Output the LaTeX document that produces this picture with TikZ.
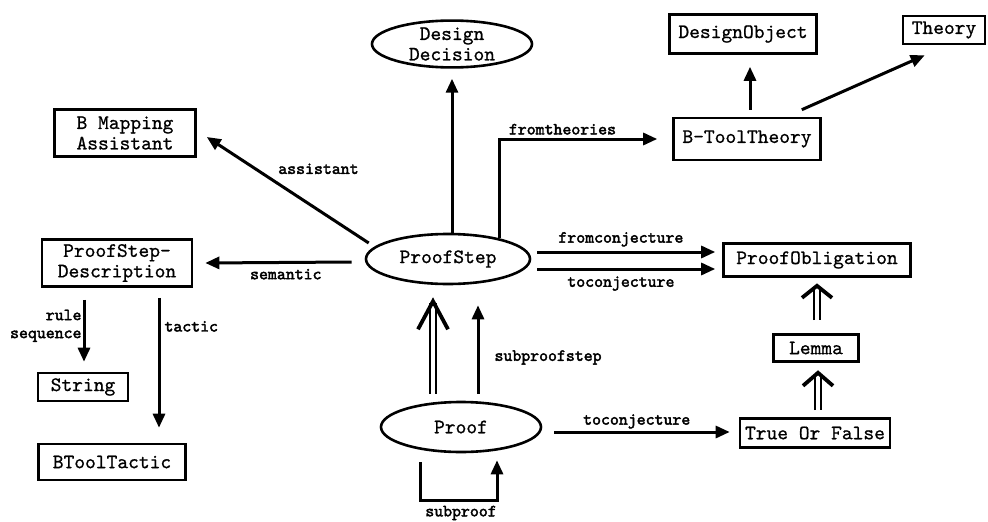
\documentclass[tikz,border=0pt]{standalone}
\usepackage{fontspec}
\newfontfamily\nodefont{lmmono10-regular.otf}[FakeBold=0.8]
\newfontfamily\lblfont{lmmono10-regular.otf}[FakeBold=2.4]
\usetikzlibrary{shapes.geometric,arrows.meta,calc}
\tikzset{
  box/.style={draw, line width=2.6pt, rectangle, inner sep=0pt,
    font=\nodefont\fontsize{20.5}{20.5}\selectfont, align=center},
  oval/.style={draw, line width=2.6pt, ellipse, inner sep=0pt,
    font=\nodefont\fontsize{20.5}{20.5}\selectfont, align=center},
  arr/.style={line width=3pt, -{Triangle[length=14pt,width=12pt]}},
  isaline/.style={double, line width=2pt, double distance=3.5pt},
  chevron/.style={line width=3.8pt, miter limit=8},
  lbl/.style={font=\lblfont\fontsize{17}{18}\selectfont, inner sep=2pt}
}
\begin{document}
\begin{tikzpicture}[x=1pt,y=-1pt]
\useasboundingbox (0,0) rectangle (988,522);

% classes and concepts
\node[box, minimum width=147pt, minimum height=39pt] (do) at (743,34) {DesignObject};
\node[box, minimum width=82pt, minimum height=28pt] (th) at (944,30) {Theory};
\node[box, minimum width=147pt, minimum height=42pt] (btt) at (747,139) {B-ToolTheory};
\node[oval, minimum width=160pt, minimum height=42pt] (dd) at (452,44) {Design\\Decision};
\node[box, minimum width=141pt, minimum height=47pt] (bma) at (125,133) {B Mapping\\Assistant};
\node[box, minimum width=150pt, minimum height=47pt] (psd) at (117,263) {ProofStep-\\Description};
\node[oval, minimum width=164pt, minimum height=50pt] (ps) at (448,259) {ProofStep};
\node[box, minimum width=187pt, minimum height=33pt] (po) at (817,260) {ProofObligation};
\node[box, minimum width=85pt, minimum height=27pt] (lem) at (816,348) {Lemma};
\node[box, minimum width=150pt, minimum height=29pt] (tf) at (815,433) {True Or False};
\node[oval, minimum width=160pt, minimum height=50pt] (pr) at (461,427) {Proof};
\node[box, minimum width=90pt, minimum height=28pt] (str) at (83,387) {String};
\node[box, minimum width=147pt, minimum height=36pt] (btac) at (112,462) {BToolTactic};

% relations of ProofStep
\draw[arr] (ps.north -| dd.south) -- ([yshift=-10pt]dd.south);
\draw[arr] (ps.22) |- ([xshift=-15pt]btt.west)
  node[lbl, above, pos=0.7, yshift=1pt] {fromtheories};
\draw[arr] ($(ps.west)+(4,-16)$) -- ($(bma.east)+(10,4)$)
  node[lbl, pos=0.58, anchor=south west, yshift=4pt] {assistant};
\draw[arr] ($(ps.west)+(-13,3)$) -- ($(psd.east)+(12,0)$)
  node[lbl, below, pos=0.45, yshift=-3pt] {semantic};
\draw[arr] ($(ps.east)+(6,-7)$) -- ($(po.west)+(-7,-8)$)
  node[lbl, above, pos=0.47, yshift=2pt] {fromconjecture};
\draw[arr] ($(ps.east)+(6,10)$) -- ($(po.west)+(-7,9)$)
  node[lbl, below, pos=0.47, yshift=-4pt] {toconjecture};

% B-ToolTheory
\draw[arr] ($(btt.north)+(3,-7)$) -- ($(do.south)+(7,12)$);
\draw[arr] ($(btt.north east)+(-20,-7)$) -- ($(th.south west)+(23,10)$);

% Proof: generalisation (double shaft, open chevron) and subproofstep
\coordinate (psin) at ($(ps.south)+(-15,16)$);
\draw[isaline] ($(pr.north)+(-28,-7)$) -- ($(psin)+(0,2)$);
\draw[chevron] ($(psin)+(-15,28)$) -- (psin) -- ($(psin)+(15,28)$);
\draw[arr] ($(pr.north)+(17,-7)$) -- ($(ps.south)+(30,20)$)
  node[lbl, right, pos=0.41, xshift=13pt] {subproofstep};
\draw[arr] ($(pr.east)+(12,5)$) -- ($(tf.west)+(-9,-1)$)
  node[lbl, above, pos=0.47] {toconjecture};
\draw[arr] ($(pr.south)+(-41,9)$) |- ($(pr.south)+(0,47)$)
  node[lbl, below, yshift=-2pt] {subproof} -| ($(pr.south)+(36,7)$);

% proof obligations
\coordinate (poin) at ($(po.south)+(0,8)$);
\coordinate (lemin) at ($(lem.south)+(2,10)$);
\draw[isaline] ($(lem.north)+(1,-13)$) -- ($(poin)+(0,2)$);
\draw[chevron] ($(poin)+(-15,12)$) -- (poin) -- ($(poin)+(15,12)$);
\draw[isaline] ($(tf.north)+(3,-7)$) -- ($(lemin)+(0,2)$);
\draw[chevron] ($(lemin)+(-15,13)$) -- (lemin) -- ($(lemin)+(15,13)$);

% ProofStep-Description
\draw[arr] ($(psd.south)+(-33,12)$) -- ($(str.north)+(1,-10)$)
  node[lbl, left, align=right, pos=0.42, inner sep=1pt] {rule\\sequence};
\draw[arr] ($(psd.south)+(42,10)$) -- ($(btac.north)+(47,-15)$)
  node[lbl, right, pos=0.22, xshift=2pt] {tactic};
\end{tikzpicture}
\end{document}
